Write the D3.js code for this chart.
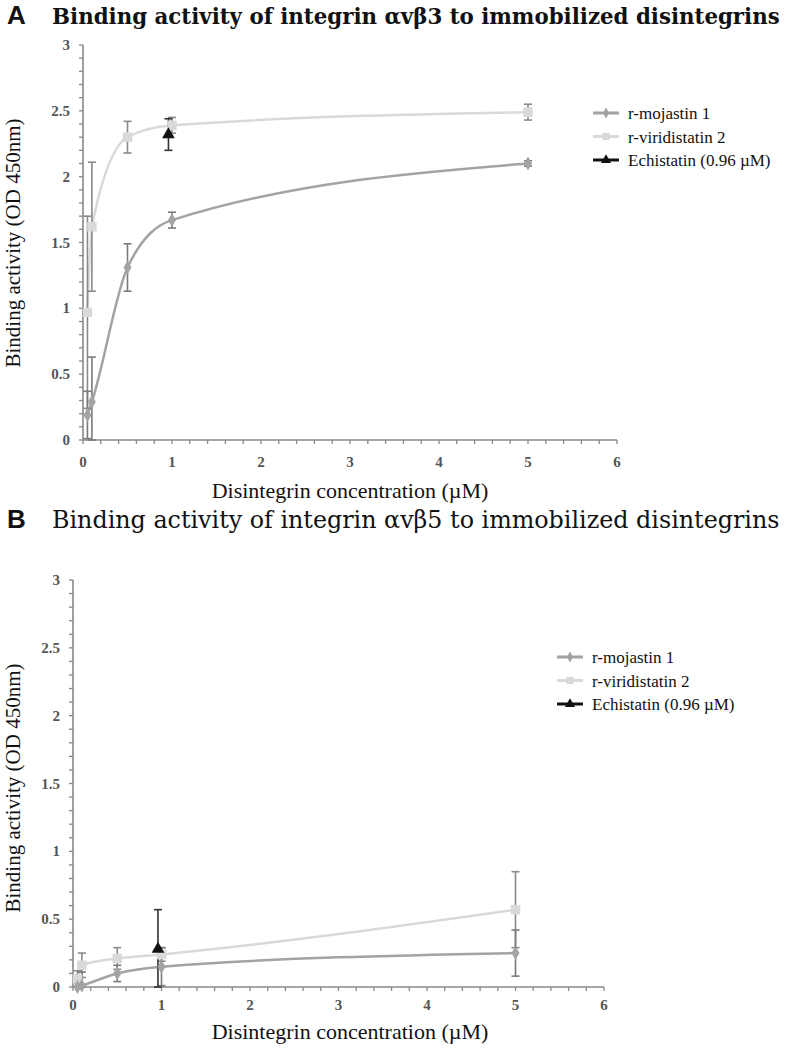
<!DOCTYPE html>
<html><head><meta charset="utf-8">
<script src="https://cdn.jsdelivr.net/npm/d3@7"></script>
<style>body{margin:0;background:#fff}svg{display:block}</style>
</head><body>
<svg id="c" width="791" height="1050"></svg>
<script>
// ---- data ----
const concentrations = [0.05, 0.1, 0.5, 1, 5];
const xTicks = [0, 1, 2, 3, 4, 5, 6];
const yTicks = [0, 0.5, 1, 1.5, 2, 2.5, 3];
const seriesNames = ["r-mojastin 1", "r-viridistatin 2", "Echistatin (0.96 \u00b5M)"];

const mojastinA = [0.19, 0.29, 1.31, 1.67, 2.10];
const mojastinAErr = [0.18, 0.34, 0.18, 0.06, 0.02];
const viridistatinA = [0.97, 1.62, 2.30, 2.39, 2.49];
const viridistatinAErr = [0.73, 0.49, 0.12, 0.06, 0.06];
const echistatinX = [0.96];
const echistatinA = [2.32];
const echistatinAErr = [0.12];

const mojastinB = [0.00, 0.01, 0.10, 0.15, 0.25];
const mojastinBErr = [0.03, 0.10, 0.06, 0.14, 0.17];
const viridistatinB = [0.06, 0.16, 0.21, 0.24, 0.57];
const viridistatinBErr = [0.06, 0.09, 0.08, 0.05, 0.28];
const echistatinB = [0.28];
const echistatinBErr = [0.29];

const titleA = "Binding activity of integrin \u03b1v\u03b23 to immobilized disintegrins";
const titleB = "Binding activity of integrin \u03b1v\u03b25 to immobilized disintegrins";
const yLabel = "Binding activity (OD 450nm)";
const xLabel = "Disintegrin concentration (\u00b5M)";

// ---- drawing ----
const svg = d3.select("#c");
const serif = "'Liberation Serif','Times New Roman',serif";
const colMoj = "#a3a3a3", colVir = "#d9d9d9", colEch = "#111";

function panel(cfg) {
  const g = svg.append("g");
  const x = d3.scaleLinear().domain([0, 6]).range([cfg.x0, cfg.x1]);
  const y = d3.scaleLinear().domain([0, 3]).range([cfg.y0, cfg.y1]);

  // panel letter + title
  g.append("text").attr("x", 7).attr("y", cfg.titleY).text(cfg.letter)
    .attr("font-family", "'Liberation Sans',Arial,sans-serif").attr("font-weight", "bold")
    .attr("font-size", 26).attr("fill", "#111");
  const t = g.append("text").attr("x", 52).attr("y", cfg.titleY).text(cfg.title)
    .attr("font-family", "'DejaVu Serif',serif").attr("font-weight", cfg.bold ? "bold" : "normal")
    .attr("font-size", 20).attr("fill", "#111");
  const w = t.node().getComputedTextLength();
  t.attr("font-size", 20 * 728 / w);

  // axes
  const minorY = d3.range(0, 3.0001, 0.1);
  const minorX = d3.range(0, 6.0001, 0.2);
  const ax = g.append("g").attr("stroke", "#888");
  ax.append("line").attr("x1", x(0)).attr("x2", x(0)).attr("y1", y(0)).attr("y2", y(3)).attr("stroke-width", 1.6);
  ax.append("line").attr("x1", x(0)).attr("x2", x(6)).attr("y1", y(0)).attr("y2", y(0)).attr("stroke-width", 1.6);
  ax.selectAll(".ty").data(minorY).join("line")
    .attr("x1", x(0) - 4).attr("x2", x(0)).attr("y1", d => y(d)).attr("y2", d => y(d)).attr("stroke-width", 1.3);
  ax.selectAll(".tx").data(minorX).join("line")
    .attr("y1", y(0)).attr("y2", y(0) + 4).attr("x1", d => x(d)).attr("x2", d => x(d)).attr("stroke-width", 1.3);

  g.selectAll(".yl").data(yTicks).join("text")
    .attr("x", x(0) - 13).attr("y", d => y(d) + 5).attr("text-anchor", "end")
    .attr("font-family", serif).attr("font-size", 15).attr("font-weight", "bold").attr("fill", "#555")
    .text(d => d);
  g.selectAll(".xl").data(xTicks).join("text")
    .attr("x", d => x(d)).attr("y", y(0) + cfg.xTickOff).attr("text-anchor", "middle")
    .attr("font-family", serif).attr("font-size", 15).attr("font-weight", "bold").attr("fill", "#555")
    .text(d => d);

  g.append("text").attr("transform", `translate(${cfg.yLabX},${cfg.yLabY}) rotate(-90)`)
    .attr("text-anchor", "middle").attr("font-family", serif).attr("font-size", 21).attr("fill", "#111").text(yLabel);
  g.append("text").attr("x", 350).attr("y", cfg.xLabY).attr("text-anchor", "middle")
    .attr("font-family", serif).attr("font-size", 22).attr("fill", "#111").text(xLabel);

  const line = d3.line().x(d => x(d[0])).y(d => y(d[1])).curve(d3.curveMonotoneX);
  const pts = (xs, ys) => xs.map((v, i) => [v, ys[i]]);

  function errBars(xs, ys, es, color) {
    const eb = g.append("g").attr("stroke", color).attr("stroke-width", 1.6);
    xs.forEach((v, i) => {
      const lo = Math.max(0, ys[i] - es[i]), hi = ys[i] + es[i];
      eb.append("line").attr("x1", x(v)).attr("x2", x(v)).attr("y1", y(lo)).attr("y2", y(hi));
      eb.append("line").attr("x1", x(v) - 4).attr("x2", x(v) + 4).attr("y1", y(hi)).attr("y2", y(hi));
      eb.append("line").attr("x1", x(v) - 4).attr("x2", x(v) + 4).attr("y1", y(lo)).attr("y2", y(lo));
    });
  }
  // lines
  g.append("path").attr("d", line(pts(concentrations, cfg.vir))).attr("fill", "none").attr("stroke", colVir).attr("stroke-width", 2.5);
  g.append("path").attr("d", line(pts(concentrations, cfg.moj))).attr("fill", "none").attr("stroke", colMoj).attr("stroke-width", 2.5);
  errBars(concentrations, cfg.vir, cfg.virErr, "#8a8a8a");
  errBars(concentrations, cfg.moj, cfg.mojErr, "#7a7a7a");
  errBars(echistatinX, cfg.ech, cfg.echErr, "#333");

  const sq = d3.symbol().type(d3.symbolSquare).size(90);
  const di = d3.symbol().type(d3.symbolDiamond).size(55);
  const tr = d3.symbol().type(d3.symbolTriangle).size(70);
  g.selectAll(".mv").data(pts(concentrations, cfg.vir)).join("path").attr("d", sq)
    .attr("transform", d => `translate(${x(d[0])},${y(d[1])})`).attr("fill", colVir);
  g.selectAll(".mm").data(pts(concentrations, cfg.moj)).join("path").attr("d", di)
    .attr("transform", d => `translate(${x(d[0])},${y(d[1])})`).attr("fill", colMoj);
  g.selectAll(".me").data(pts(echistatinX, cfg.ech)).join("path").attr("d", tr)
    .attr("transform", d => `translate(${x(d[0])},${y(d[1])})`).attr("fill", colEch);

  // legend
  const cols = [colMoj, colVir, colEch];
  const syms = [di, sq, tr];
  seriesNames.forEach((n, i) => {
    const ly = cfg.legY + i * 23.5;
    g.append("line").attr("x1", cfg.legX).attr("x2", cfg.legX + 26).attr("y1", ly).attr("y2", ly)
      .attr("stroke", cols[i]).attr("stroke-width", 3);
    g.append("path").attr("d", i === 1 ? d3.symbol().type(d3.symbolSquare).size(50)() : syms[i]())
      .attr("transform", `translate(${cfg.legX + 13},${ly}) scale(${i === 1 ? 1 : 0.8})`).attr("fill", cols[i]);
    g.append("text").attr("x", cfg.legX + 35).attr("y", ly + 6).text(n)
      .attr("font-family", serif).attr("font-size", 17).attr("fill", "#111");
  });
}

panel({letter: "A", title: titleA, bold: true, titleY: 24, x0: 83, x1: 617, y0: 440, y1: 45,
  yLabX: 20, yLabY: 243, xLabY: 498, xTickOff: 27, legX: 593, legY: 113,
  moj: mojastinA, mojErr: mojastinAErr, vir: viridistatinA, virErr: viridistatinAErr, ech: echistatinA, echErr: echistatinAErr});
panel({letter: "B", title: titleB, bold: false, titleY: 528, x0: 73, x1: 604, y0: 987, y1: 580,
  yLabX: 20, yLabY: 788, xLabY: 1039, xTickOff: 23, legX: 557, legY: 657,
  moj: mojastinB, mojErr: mojastinBErr, vir: viridistatinB, virErr: viridistatinBErr, ech: echistatinB, echErr: echistatinBErr});
</script>
</body></html>
